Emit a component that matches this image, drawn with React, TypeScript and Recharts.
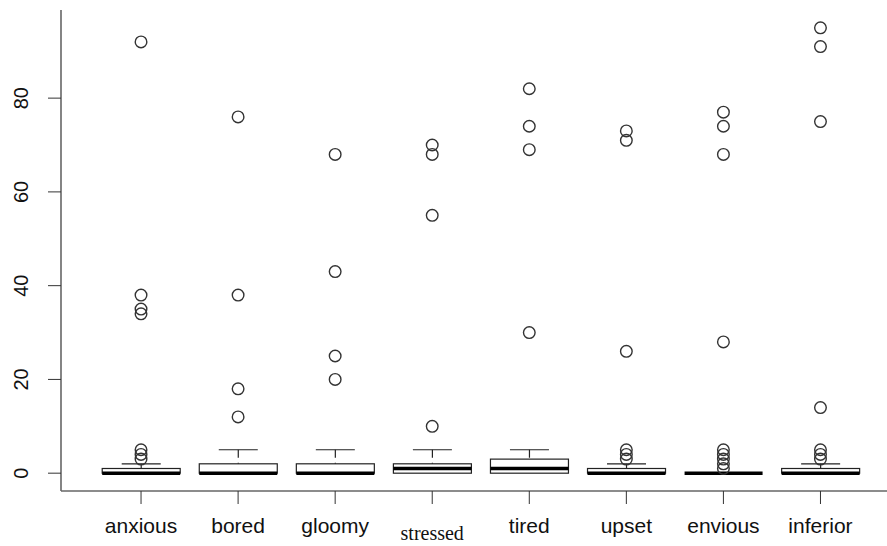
import React from 'react';
import { ComposedChart, Bar, Scatter, XAxis, YAxis } from 'recharts';

// boxplot summary per emotion
const categories = ['anxious', 'bored', 'gloomy', 'stressed', 'tired', 'upset', 'envious', 'inferior'];
const lowerQuartile = [0, 0, 0, 0, 0, 0, 0, 0];
const medians = [0, 0, 0, 1, 1, 0, 0, 0];
const upperQuartile = [1, 2, 2, 2, 3, 1, 0, 1];
const upperWhisker = [2, 5, 5, 5, 5, 2, 0, 2];
const outliers: number[][] = [
  [3, 4, 5, 34, 35, 38, 92],
  [12, 18, 38, 76],
  [20, 25, 43, 68],
  [10, 55, 68, 70],
  [30, 69, 74, 82],
  [3, 4, 5, 26, 71, 73],
  [1, 2, 3, 4, 5, 28, 68, 74, 77],
  [3, 4, 5, 14, 75, 91, 95],
];
const yTicks = [0, 20, 40, 60, 80];

const maxOutliers = Math.max(...outliers.map(o => o.length));
const outlierKeys = Array.from({ length: maxOutliers }, (_, k) => `o${k}`);

const data = categories.map((name, i) => {
  const row: any = {
    name,
    q1: lowerQuartile[i],
    q3: upperQuartile[i],
    median: medians[i],
    box: [lowerQuartile[i], upperQuartile[i]],
    whisker: [upperQuartile[i], upperWhisker[i]],
  };
  outliers[i].forEach((v, k) => { row[`o${k}`] = v; });
  return row;
});

const SANS = '"Liberation Sans", Arial, Helvetica, sans-serif';
const SERIF = '"Liberation Serif", "Times New Roman", serif';

// box with the median drawn inside it, median placed proportionally
const BoxShape = (props: any) => {
  const { x, y, width, height, payload } = props;
  const top = Math.min(y, y + height);
  const h = Math.abs(height);
  const span = payload.q3 - payload.q1;
  const my = span > 0 ? top + h * (payload.q3 - payload.median) / span : top + h;
  return (
    <g>
      <rect x={x} y={top} width={width} height={h} fill="#fff" stroke="#222" strokeWidth={1.2} />
      <line x1={x} x2={x + width} y1={my} y2={my} stroke="#000" strokeWidth={3.5} />
    </g>
  );
};

const WhiskerShape = (props: any) => {
  const { x, y, width, height } = props;
  if (!height) return <g />;
  const cx = x + width / 2;
  const top = Math.min(y, y + height);
  const bottom = Math.max(y, y + height);
  return (
    <g>
      <line x1={cx} x2={cx} y1={top} y2={bottom} stroke="#222" strokeWidth={1.2} strokeDasharray="8 5" />
      <line x1={cx - width / 4} x2={cx + width / 4} y1={top} y2={top} stroke="#222" strokeWidth={1.2} />
    </g>
  );
};

const Ring = (props: any) => {
  const { cx, cy } = props;
  if (!Number.isFinite(cx) || !Number.isFinite(cy)) return <g />;
  return <circle cx={cx} cy={cy} r={5.8} fill="none" stroke="#333" strokeWidth={1.4} />;
};

const XTick = (props: any) => {
  const { x, y, payload } = props;
  const serif = payload.value === 'stressed';
  return (
    <text
      x={x}
      y={y}
      dy={serif ? 34 : 27}
      textAnchor="middle"
      fontFamily={serif ? SERIF : SANS}
      fontSize={serif ? 20 : 21}
      fill="#111"
    >
      {payload.value}
    </text>
  );
};

const YTick = (props: any) => {
  const { y, payload } = props;
  return (
    <text x={28} y={y} transform={`rotate(-90, 28, ${y})`} textAnchor="middle" fontFamily={SANS} fontSize={20} fill="#111">
      {payload.value}
    </text>
  );
};

const pad = { left: 31.5, right: 18 };

export default function App() {
  return (
    <div style={{ position: 'absolute', left: 0, top: 0, width: 887, height: 546, background: '#fff', overflow: 'hidden' }}>
      <ComposedChart width={887} height={546} data={data} margin={{ top: 10, right: 0, bottom: 0, left: 0 }} barCategoryGap="10%">
        <XAxis
          xAxisId="b"
          dataKey="name"
          padding={pad}
          height={55}
          tickSize={13}
          interval={0}
          axisLine={{ stroke: '#666', strokeWidth: 1.6 }}
          tickLine={{ stroke: '#333' }}
          tick={<XTick />}
        />
        <XAxis
          xAxisId="t"
          dataKey="name"
          orientation="top"
          padding={pad}
          height={0}
          tick={false}
          tickLine={false}
          axisLine={{ stroke: '#666', strokeWidth: 1.6 }}
        />
        <YAxis
          type="number"
          domain={[-3.8, 98.8]}
          ticks={yTicks}
          allowDataOverflow
          width={61}
          tickSize={13}
          axisLine={{ stroke: '#666', strokeWidth: 1.6 }}
          tickLine={{ stroke: '#333' }}
          tick={<YTick />}
        />
        <Bar xAxisId="t" dataKey="whisker" shape={<WhiskerShape />} isAnimationActive={false} />
        <Bar xAxisId="b" dataKey="box" shape={<BoxShape />} isAnimationActive={false} />
        {outlierKeys.map(k => (
          <Scatter key={k} xAxisId="b" dataKey={k} shape={<Ring />} isAnimationActive={false} />
        ))}
      </ComposedChart>
    </div>
  );
}
